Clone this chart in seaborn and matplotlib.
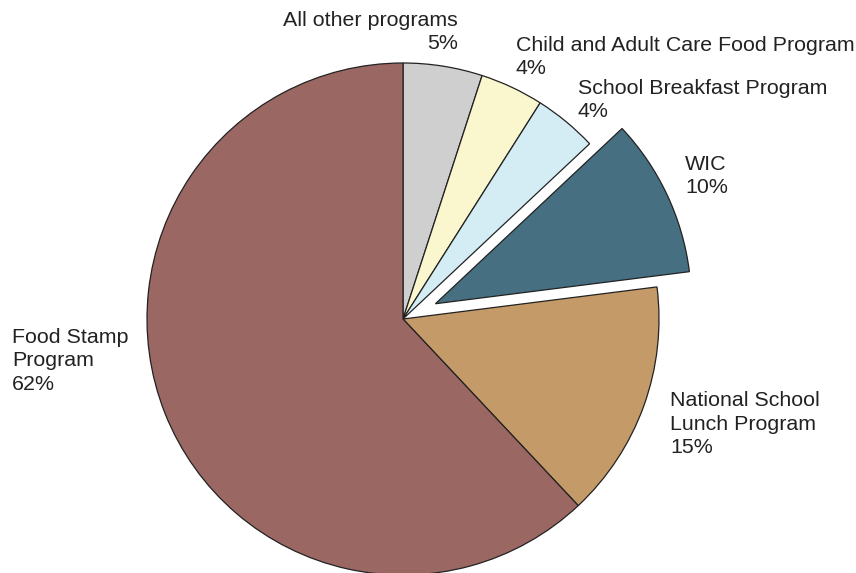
import matplotlib
matplotlib.use("Agg")
import matplotlib.pyplot as plt
import seaborn as sns

programs = ["All other programs", "Child and Adult Care Food Program",
            "School Breakfast Program", "WIC", "National School\nLunch Program",
            "Food Stamp\nProgram"]
shares = [5, 4, 4, 10, 15, 62]
colors = ["#cfcfcf", "#faf7cf", "#d4edf4", "#466f81", "#c49a68", "#9b6763"]
explode = [0, 0, 0, 0.14, 0, 0]

sns.set_style("white")
plt.rcParams["font.family"] = ["Liberation Sans", "DejaVu Sans"]

fig = plt.figure(figsize=(8.56, 5.73), dpi=100)
ax = fig.add_axes([0, 0, 1, 1])

wedges, _ = ax.pie(shares, colors=colors, explode=explode, startangle=90,
                   counterclock=False, radius=1.0,
                   wedgeprops=dict(edgecolor="#222222", linewidth=0.9))

# label positions (axes fraction) and alignment
label_pos = [
    (458 / 856, 1 - 32 / 573, "right"),
    (516 / 856, 1 - 57 / 573, "left"),
    (578 / 856, 1 - 100 / 573, "left"),
    (685 / 856, 1 - 176 / 573, "left"),
    (670 / 856, 1 - 424 / 573, "left"),
    (12 / 856, 1 - 361 / 573, "left"),
]
for name, val, (x, y, ha) in zip(programs, shares, label_pos):
    ax.text(x, y, f"{name}\n{val}%", transform=ax.transAxes, ha=ha, va="center",
            multialignment=ha, fontsize=15.4, color="#222222", linespacing=1.33)

ax.set_aspect("auto")
ax.set_xlim(-403 / 256, (856 - 403) / 256)
ax.set_ylim(-(573 - 319) / 256, 319 / 256)
ax.axis("off")

fig.savefig("out.png", dpi=100)
